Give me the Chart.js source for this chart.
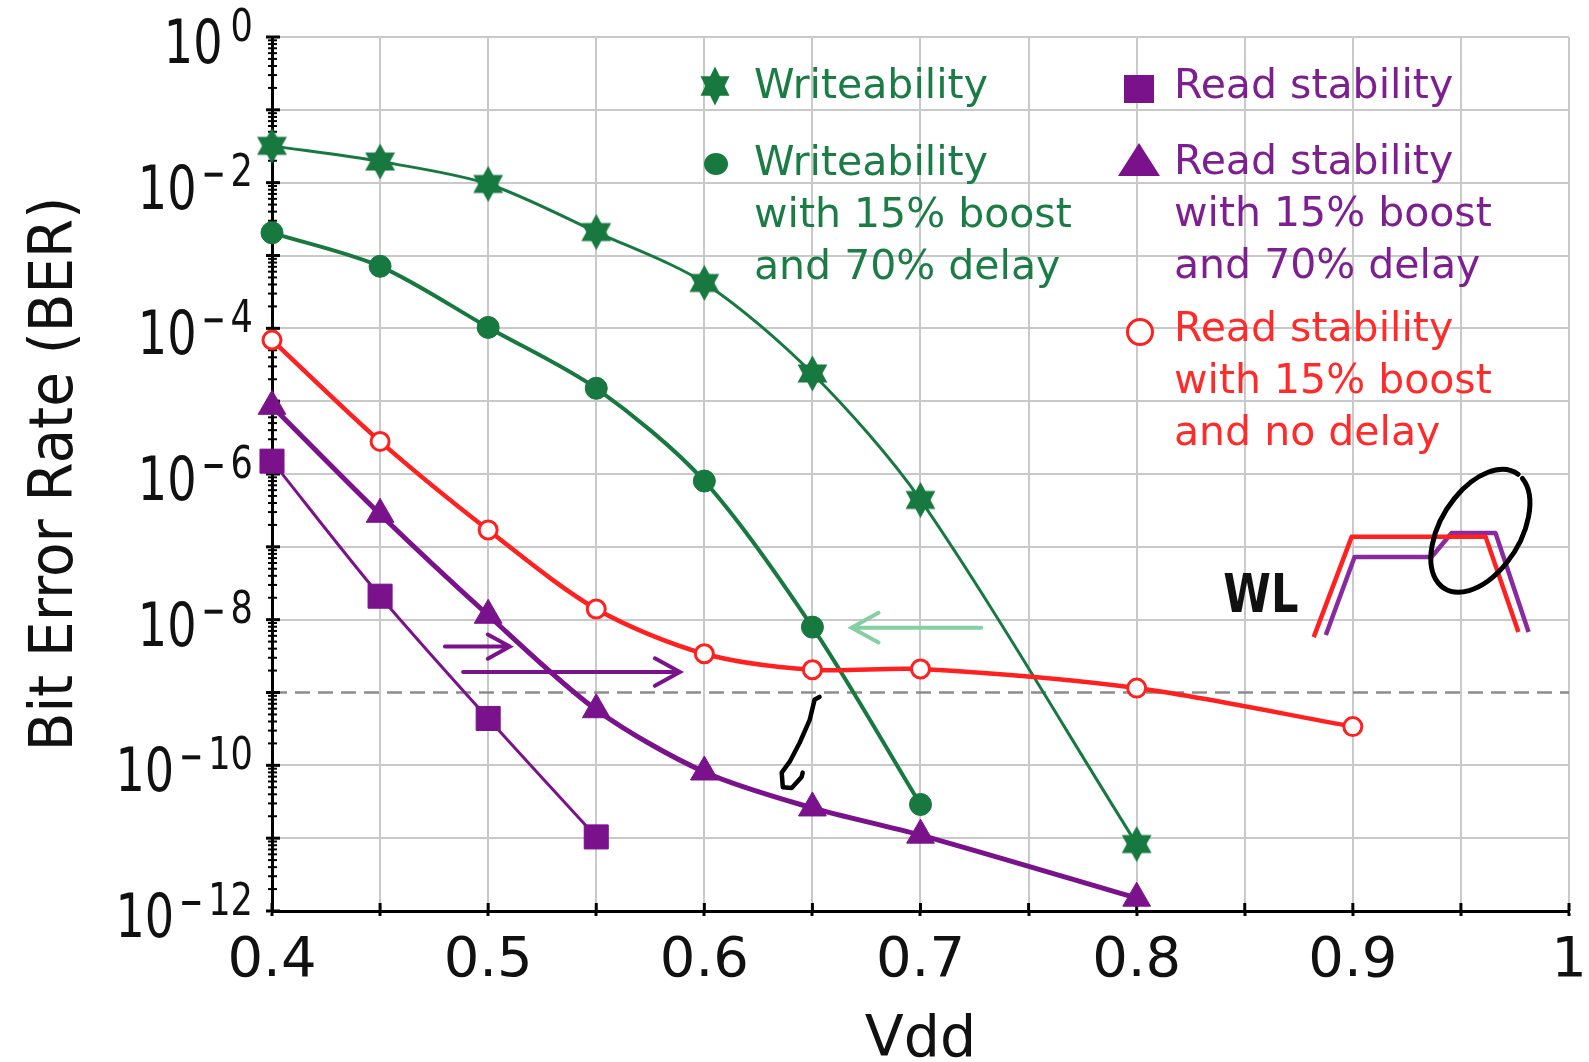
<!DOCTYPE html>
<html lang="en">
<head>
<meta charset="UTF-8">
<title>Bit Error Rate vs Vdd</title>
<script src="https://cdn.jsdelivr.net/npm/chart.js"></script>
<style>
  html, body { margin: 0; padding: 0; background: #fff; }
  #wrap { width: 1589px; height: 1062px; }
</style>
</head>
<body>
<div id="wrap"><canvas id="berChart" width="1589" height="1062"></canvas></div>
<script>
// supply voltage of each measured point
const vdd = [0.4, 0.45, 0.5, 0.55, 0.6, 0.65, 0.7, 0.8, 0.9];

// bit error rate per curve (null = not measured)
const writeability     = [3.2e-2, 1.95e-2, 9.6e-3, 2.1e-3, 4.2e-4, 2.4e-5, 4.4e-7, 8.3e-12, null];
const writeBoost       = [2.05e-3, 7.1e-4, 1.03e-4, 1.5e-5, 8.0e-7, 7.9e-9, 2.9e-11, null, null];
const readStability    = [1.5e-6, 2.1e-8, 4.4e-10, 1.04e-11, null, null, null, null, null];
const readBoostDelay   = [8.5e-6, 2.8e-7, 1.15e-8, 5.8e-10, 8.1e-11, 2.6e-11, 1.1e-11, 1.5e-12, null];
const readBoostNoDelay = [6.9e-5, 2.8e-6, 1.7e-7, 1.4e-8, 3.4e-9, 2.05e-9, 2.1e-9, 1.15e-9, 3.4e-10];

const xTickLabels = ['0.4', '0.5', '0.6', '0.7', '0.8', '0.9', '1'];
const yDecades = [0, -1, -2, -3, -4, -5, -6, -7, -8, -9, -10, -11, -12];
const yLabelDecades = [0, -2, -4, -6, -8, -10, -12];
const berTarget = 1e-9;   // dashed target line

const GREEN = '#17793f', PURPLE = '#7a128c', RED = '#ff2020';
const FONT = '"DejaVu Sans", "Liberation Sans", sans-serif';

// filled six-pointed star for the writeability points
function makeStar(w, h, color) {
  const c = document.createElement('canvas');
  c.width = w; c.height = h;
  const g = c.getContext('2d');
  g.fillStyle = color;
  const cx = w / 2, cy = h / 2, rx = w / 2 / Math.cos(Math.PI / 6) * 0.98, ry = h / 2 - 0.5;
  [-Math.PI / 2, Math.PI / 2].forEach(rot => {
    g.beginPath();
    for (let k = 0; k < 3; k++) {
      const ang = rot + k * 2 * Math.PI / 3;
      g.lineTo(cx + rx * Math.cos(ang) * 0.87, cy + ry * Math.sin(ang));
    }
    g.closePath();
    g.fill();
  });
  return c;
}
const starImg = makeStar(35, 37, GREEN);
const starLegend = makeStar(34, 40, GREEN);

function pts(arr) {
  return vdd.map((x, i) => ({ x: x, y: arr[i] })).filter(p => p.y !== null);
}

function txt(ctx, s, x, y, size, color, align, sx, rot, weight) {
  ctx.save();
  ctx.translate(x, y);
  if (rot) ctx.rotate(rot);
  ctx.scale(sx || 1, 1);
  ctx.font = (weight ? weight + ' ' : '') + size + 'px ' + FONT;
  ctx.fillStyle = color;
  ctx.textAlign = align || 'left';
  ctx.textBaseline = 'alphabetic';
  ctx.fillText(s, 0, 0);
  ctx.restore();
}

function arrow(ctx, x0, x1, y, head, color, width) {
  const dir = Math.sign(x1 - x0);
  ctx.strokeStyle = color; ctx.lineWidth = width; ctx.lineCap = 'round';
  ctx.beginPath();
  ctx.moveTo(x0, y); ctx.lineTo(x1, y);
  ctx.moveTo(x1 - dir * head, y - head * 0.55); ctx.lineTo(x1, y); ctx.lineTo(x1 - dir * head, y + head * 0.55);
  ctx.stroke();
}

const decor = {
  id: 'decor',
  beforeDatasetsDraw(chart) {
    const { ctx, chartArea: a, scales: { x, y } } = chart;
    ctx.save();
    // target BER line
    const yt = y.getPixelForValue(berTarget);
    ctx.strokeStyle = '#8c8c8c'; ctx.lineWidth = 2.5; ctx.setLineDash([15, 8]);
    ctx.beginPath(); ctx.moveTo(a.left, yt); ctx.lineTo(a.right, yt); ctx.stroke();
    ctx.setLineDash([]);

    // y axis ticks, major and minor, crossing the axis
    ctx.strokeStyle = '#000';
    yDecades.forEach(d => {
      const py = y.getPixelForValue(Math.pow(10, d));
      ctx.lineWidth = 3;
      ctx.beginPath(); ctx.moveTo(a.left - 6, py); ctx.lineTo(a.left + 8, py); ctx.stroke();
      if (d === 0) return;
      ctx.lineWidth = 2;
      for (let m = 2; m < 10; m++) {
        const pm = y.getPixelForValue(m * Math.pow(10, d));
        ctx.beginPath(); ctx.moveTo(a.left - 4, pm); ctx.lineTo(a.left + 5, pm); ctx.stroke();
      }
    });
    // x ticks poke up into the plot
    ctx.lineWidth = 3;
    x.ticks.forEach(t => {
      const px = x.getPixelForValue(t.value);
      ctx.beginPath(); ctx.moveTo(px, a.bottom); ctx.lineTo(px, a.bottom - 8); ctx.stroke();
    });
    ctx.restore();
  },
  afterDatasetsDraw(chart) {
    const { ctx, scales: { x, y } } = chart;
    const P = (vx, e) => [x.getPixelForValue(vx), y.getPixelForValue(Math.pow(10, e))];
    ctx.save();

    // shift arrows
    let p0 = P(0.480, -8.37), p1 = P(0.510, -8.37);
    arrow(ctx, p0[0], p1[0], p0[1], 22, PURPLE, 4);
    p0 = P(0.4884, -8.72); p1 = P(0.5887, -8.72);
    arrow(ctx, p0[0], p1[0], p0[1], 25, PURPLE, 4);
    p0 = P(0.7281, -8.11); p1 = P(0.6681, -8.11);
    arrow(ctx, p0[0], p1[0], p0[1], 27, '#86cfa3', 4);

    // word line waveform inset
    ctx.lineJoin = 'round'; ctx.lineCap = 'butt'; ctx.lineWidth = 4.5;
    const purpleWL = [[0.8875, -8.21], [0.9008, -7.14], [0.9364, -7.14], [0.9457, -6.81], [0.9660, -6.81], [0.9813, -8.17]];
    const redWL = [[0.8819, -8.24], [0.8995, -6.86], [0.9614, -6.86], [0.9766, -8.17]];
    [[purpleWL, '#8a2aa0'], [redWL, RED]].forEach(([line, col]) => {
      ctx.strokeStyle = col;
      ctx.beginPath();
      line.forEach(pt => { const q = P(pt[0], pt[1]); ctx.lineTo(q[0], q[1]); });
      ctx.stroke();
    });
    const wl = P(0.8575, -7.893);
    txt(ctx, 'WL', wl[0], wl[1], 54, '#111', 'center', 0.8, 0, 'bold');

    // hand-drawn marks
    ctx.strokeStyle = '#000'; ctx.lineWidth = 5; ctx.lineCap = 'round';
    const ec = P(0.9590, -6.78);
    ctx.beginPath();
    ctx.ellipse(ec[0], ec[1], 68, 40, -58 * Math.PI / 180, 0.2, Math.PI * 2 + 0.05);
    ctx.stroke();
    const hook = [[0.6533, -9.06], [0.6510, -9.10], [0.6487, -9.38], [0.6441, -9.69], [0.6395, -9.95],
                  [0.6358, -10.10], [0.6363, -10.30], [0.6404, -10.31], [0.6450, -10.16], [0.6455, -10.10]];
    ctx.lineWidth = 4.5;
    ctx.beginPath();
    hook.forEach(pt => { const q = P(pt[0], pt[1]); ctx.lineTo(q[0], q[1]); });
    ctx.stroke();
    ctx.restore();
  },
  afterDraw(chart) {
    const { ctx, chartArea: a, scales: { y } } = chart;
    ctx.save();
    // y tick labels as powers of ten
    yLabelDecades.forEach(e => {
      const py = y.getPixelForValue(Math.pow(10, e));
      const right = a.left - 19;
      ctx.font = '44px ' + FONT;
      const digits = String(Math.abs(e));
      const dw = ctx.measureText(digits).width * 0.8;
      txt(ctx, digits, right, py + 3.5, 44, '#111', 'right', 0.8);
      let left = right - dw;
      if (e !== 0) {
        const dashW = 18;
        ctx.fillStyle = '#111';
        ctx.fillRect(left - 8 - dashW, py - 10, dashW, 4);
        left = left - 8 - dashW;
      }
      txt(ctx, '10', left - 8, py + 26, 60, '#111', 'right', 0.77);
    });

    // axis titles
    txt(ctx, 'Bit Error Rate (BER)', 72, (a.top + a.bottom) / 2, 60, '#111', 'center', 0.94, -Math.PI / 2);
    txt(ctx, 'Vdd', (a.left + a.right) / 2, 1056, 57, '#111', 'center', 1);

    // legend inside the plot
    const legend = [
      { mark: 'star', mx: 715, my: 86, tx: 754, lines: ['Writeability'], base: 98, color: '#1b7d45' },
      { mark: 'circle', mx: 716, my: 164, tx: 754, lines: ['Writeability', 'with 15% boost', 'and 70% delay'], base: 175, color: '#1b7d45' },
      { mark: 'rect', mx: 1139, my: 89, tx: 1174, lines: ['Read stability'], base: 98, color: '#7d1f91' },
      { mark: 'triangle', mx: 1139, my: 160, tx: 1174, lines: ['Read stability', 'with 15% boost', 'and 70% delay'], base: 174, color: '#7d1f91' },
      { mark: 'open', mx: 1140, my: 332, tx: 1174, lines: ['Read stability', 'with 15% boost', 'and no delay'], base: 341, color: '#ff2b2b' }
    ];
    legend.forEach(it => {
      it.lines.forEach((s, i) => txt(ctx, s, it.tx, it.base + i * 52, 41, it.color, 'left', 1));
      ctx.beginPath();
      if (it.mark === 'star') {
        ctx.drawImage(starLegend, it.mx - 17, it.my - 20);
      } else if (it.mark === 'circle') {
        ctx.fillStyle = GREEN;
        ctx.ellipse(it.mx, it.my, 12, 11, 0, 0, Math.PI * 2); ctx.fill();
      } else if (it.mark === 'rect') {
        ctx.fillStyle = PURPLE;
        ctx.fillRect(it.mx - 15, it.my - 14, 30, 28);
      } else if (it.mark === 'triangle') {
        ctx.fillStyle = PURPLE;
        ctx.moveTo(it.mx, it.my - 17); ctx.lineTo(it.mx + 21, it.my + 16); ctx.lineTo(it.mx - 21, it.my + 16);
        ctx.closePath(); ctx.fill();
      } else {
        ctx.strokeStyle = RED; ctx.lineWidth = 3; ctx.fillStyle = '#fff';
        ctx.arc(it.mx, it.my, 12.5, 0, Math.PI * 2); ctx.fill(); ctx.stroke();
      }
    });
    ctx.restore();
  }
};

const common = { fill: false, tension: 0.3, clip: false, pointHoverRadius: 0 };

new Chart(document.getElementById('berChart'), {
  type: 'line',
  data: {
    datasets: [
      Object.assign({ label: 'Read stability with 15% boost and no delay', data: pts(readBoostNoDelay),
        borderColor: RED, borderWidth: 4.5, pointStyle: 'circle', pointRadius: 9,
        pointBackgroundColor: '#fff', pointBorderColor: RED, pointBorderWidth: 3 }, common),
      Object.assign({ label: 'Read stability with 15% boost and 70% delay', data: pts(readBoostDelay),
        borderColor: PURPLE, borderWidth: 5, pointStyle: 'triangle', pointRadius: 16,
        pointBackgroundColor: PURPLE, pointBorderColor: PURPLE, pointBorderWidth: 1 }, common),
      Object.assign({ label: 'Read stability', data: pts(readStability),
        borderColor: PURPLE, borderWidth: 3, pointStyle: 'rect', pointRadius: 17,
        pointBackgroundColor: PURPLE, pointBorderColor: PURPLE, pointBorderWidth: 1 }, common),
      Object.assign({ label: 'Writeability with 15% boost and 70% delay', data: pts(writeBoost),
        borderColor: GREEN, borderWidth: 4, pointStyle: 'circle', pointRadius: 11,
        pointBackgroundColor: GREEN, pointBorderColor: GREEN, pointBorderWidth: 1 }, common),
      Object.assign({ label: 'Writeability', data: pts(writeability),
        borderColor: GREEN, borderWidth: 3, pointStyle: starImg, pointRadius: 17 }, common)
    ]
  },
  options: {
    responsive: false,
    animation: false,
    devicePixelRatio: 1,
    layout: { padding: { top: 37, right: 18, left: 0, bottom: 0 } },
    plugins: { legend: { display: false }, tooltip: { enabled: false } },
    scales: {
      x: {
        type: 'linear', min: 0.4, max: 1,
        afterFit: s => { s.height = 151; s.paddingRight = 18; s.paddingLeft = 0; },
        ticks: {
          stepSize: 0.05, autoSkip: false, maxRotation: 0, padding: 12,
          color: '#111', font: { family: FONT, size: 56 },
          callback: v => {
            const t = xTickLabels.find(l => Math.abs(parseFloat(l) - v) < 1e-6);
            return t === undefined ? '' : t;
          }
        },
        grid: { color: '#c9c9c9', lineWidth: 2, drawTicks: true, tickLength: 5, tickColor: '#000', tickWidth: 3 },
        border: { color: '#000', width: 3 }
      },
      y: {
        type: 'logarithmic', min: 1e-12, max: 1,
        afterFit: s => { s.width = 272; },
        afterBuildTicks: s => { s.ticks = yDecades.map(d => ({ value: Math.pow(10, d) })); },
        ticks: { display: false },
        grid: {
          drawTicks: false, lineWidth: 2,
          color: c => (c.tick && Math.abs(Math.log10(c.tick.value) + 9) < 1e-6) ? 'rgba(0,0,0,0)' : '#c9c9c9'
        },
        border: { color: '#000', width: 3 }
      }
    }
  },
  plugins: [decor]
});
</script>
</body>
</html>
